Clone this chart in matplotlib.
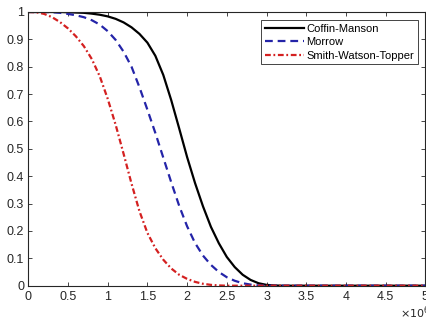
import matplotlib
matplotlib.use("Agg")
import matplotlib.pyplot as plt

# cycles (x 1e6)
cycles = [0.0, 0.1, 0.2, 0.3, 0.4, 0.5, 0.6, 0.7, 0.8, 0.9,
          1.0, 1.1, 1.2, 1.3, 1.4, 1.5, 1.6, 1.7, 1.8, 1.9,
          2.0, 2.1, 2.2, 2.3, 2.4, 2.5, 2.6, 2.7, 2.8, 2.9,
          3.0, 3.1, 3.2, 5.0]

coffin_manson = [1.000, 1.000, 1.000, 1.000, 1.000, 0.999, 0.998, 0.997, 0.994, 0.990,
                 0.984, 0.975, 0.962, 0.944, 0.920, 0.888, 0.840, 0.770, 0.678, 0.575,
                 0.470, 0.375, 0.290, 0.215, 0.155, 0.105, 0.068, 0.040, 0.021, 0.009,
                 0.003, 0.001, 0.000, 0.000]

morrow = [1.000, 1.000, 1.000, 0.999, 0.997, 0.993, 0.988, 0.981, 0.970, 0.954,
          0.930, 0.898, 0.855, 0.800, 0.725, 0.643, 0.558, 0.468, 0.378, 0.292,
          0.217, 0.156, 0.110, 0.076, 0.050, 0.031, 0.018, 0.009, 0.004, 0.001,
          0.000, 0.000, 0.000, 0.000]

swt = [1.000, 0.999, 0.993, 0.981, 0.963, 0.940, 0.911, 0.875, 0.828, 0.765,
       0.683, 0.588, 0.482, 0.373, 0.272, 0.193, 0.137, 0.095, 0.063, 0.040,
       0.025, 0.014, 0.007, 0.003, 0.001, 0.000, 0.000, 0.000, 0.000, 0.000,
       0.000, 0.000, 0.000, 0.000]

series_names = ["Coffin-Manson", "Morrow", "Smith-Watson-Topper"]
xticks = [0, 0.5, 1, 1.5, 2, 2.5, 3, 3.5, 4, 4.5, 5]
xticklabels = ["0", "0.5", "1", "1.5", "2", "2.5", "3", "3.5", "4", "4.5", "5"]
yticks = [0, 0.1, 0.2, 0.3, 0.4, 0.5, 0.6, 0.7, 0.8, 0.9, 1]
yticklabels = ["0", "0.1", "0.2", "0.3", "0.4", "0.5", "0.6", "0.7", "0.8", "0.9", "1"]

plt.rcParams['font.family'] = ['Liberation Sans', 'DejaVu Sans']

fig = plt.figure(figsize=(4.26, 3.22), dpi=100)
W, H = 426, 322
left, right, bottom, top = 28.3, 425.3, 285.7, 12.0
ax = fig.add_axes([left / W, (H - bottom) / H, (right - left) / W, (bottom - top) / H])

ax.plot(cycles, coffin_manson, color='black', lw=1.6, label=series_names[0])
ax.plot(cycles, morrow, color='#2424a8', lw=1.6, dashes=(3.5, 2.2), label=series_names[1])
ax.plot(cycles, swt, color='#d42020', lw=1.6, dashes=(2.6, 1.2, 0.8, 1.2), label=series_names[2])

ax.set_xlim(0, 5)
ax.set_ylim(0, 1)
ax.set_xticks(xticks)
ax.set_xticklabels(xticklabels)
ax.set_yticks(yticks)
ax.set_yticklabels(yticklabels)
ax.tick_params(direction='in', length=3, width=0.6, top=True, right=True,
               labelsize=9, colors='#262626')
ax.tick_params(axis='x', pad=4)
ax.tick_params(axis='y', pad=3)
for s in ax.spines.values():
    s.set_linewidth(0.8)
    s.set_color('#262626')

leg = ax.legend(loc='upper left', fontsize=8, frameon=True, fancybox=False,
                edgecolor='#262626', framealpha=1, borderpad=0.35, labelspacing=0.3,
                handlelength=3.5, handletextpad=0.2, borderaxespad=0,
                bbox_to_anchor=((261 - left) / (right - left), 1 - (20 - top) / (bottom - top)))
leg.get_frame().set_linewidth(0.6)

fig.text(400 / W, 1 - 313 / H, r'$\times10^{6}$', fontsize=8, color='#262626',
         ha='left', va='center')

fig.savefig('out.png', dpi=100)
